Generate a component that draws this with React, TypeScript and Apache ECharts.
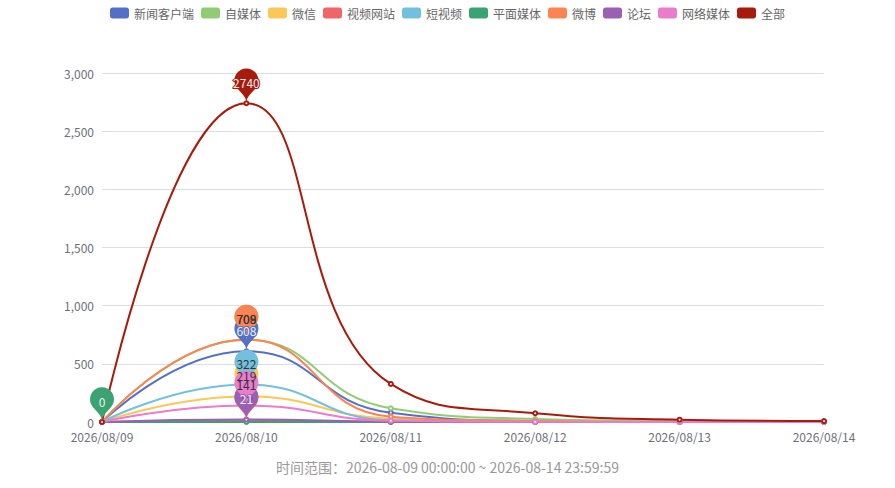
import React, { useEffect, useRef } from "react";
import * as echarts from "echarts";

const dates = ["2026/08/09", "2026/08/10", "2026/08/11", "2026/08/12", "2026/08/13", "2026/08/14"];
const seriesNames = ["新闻客户端", "自媒体", "微信", "视频网站", "短视频", "平面媒体", "微博", "论坛", "网络媒体", "全部"];
const newsClient = [0, 608, 80, 10, 3, 1];
const selfMedia = [0, 708, 118, 26, 8, 3];
const wechat = [0, 219, 30, 8, 2, 1];
const videoSite = [0, 12, 1, 0, 0, 0];
const shortVideo = [0, 322, 15, 3, 1, 0];
const print = [0, 0, 0, 0, 0, 0];
const weibo = [0, 709, 46, 8, 2, 1];
const forum = [0, 21, 2, 0, 0, 0];
const webMedia = [0, 141, 11, 2, 0, 0];
const total = [0, 2740, 327, 75, 20, 8];
const seriesData = [newsClient, selfMedia, wechat, videoSite, shortVideo, print, weibo, forum, webMedia, total];
const colors = ["#5470c6", "#91cc75", "#fac858", "#ee6666", "#73c0de", "#3ba272", "#fc8452", "#9a60b4", "#ea7ccc", "#a61b0b"];
const subtitle = "时间范围：2026-08-09 00:00:00 ~ 2026-08-14 23:59:59";

export default function App() {
  const ref = useRef<HTMLDivElement>(null);
  useEffect(() => {
    document.body.style.margin = "0";
    const chart = echarts.init(ref.current!, null, { renderer: "svg" });
    chart.setOption({
      animation: false,
      color: colors,
      textStyle: { fontFamily: "'Noto Sans CJK SC', sans-serif" },
      title: {
        text: subtitle,
        left: "center",
        top: 455,
        textStyle: { fontSize: 14, fontWeight: "normal", color: "#999" },
      },
      legend: {
        top: 2,
        left: "center",
        icon: "roundRect",
        itemWidth: 19,
        itemHeight: 11,
        itemGap: 7,
        data: seriesNames,
        textStyle: { color: "#666", fontSize: 12 },
      },
      grid: { left: 102, right: 71, top: 73, bottom: 66, containLabel: false },
      xAxis: {
        type: "category",
        boundaryGap: false,
        data: dates,
        axisTick: { show: false },
        axisLabel: { color: "#6E7079" },
      },
      yAxis: {
        type: "value",
        min: 0,
        max: 3000,
        interval: 500,
        axisLabel: { color: "#6E7079" },
      },
      series: seriesNames.map((name, i) => ({
        name,
        type: "line",
        smooth: true,
        symbol: "emptyCircle",
        symbolSize: 4,
        data: seriesData[i],
        lineStyle: { width: 2 },
        markPoint: {
          symbolSize: 40,
          data: [{ type: "max", name: "max" }],
          label: { fontSize: 12 },
        },
      })),
    });
    return () => chart.dispose();
  }, []);
  return <div ref={ref} style={{ width: 895, height: 488 }} />;
}
